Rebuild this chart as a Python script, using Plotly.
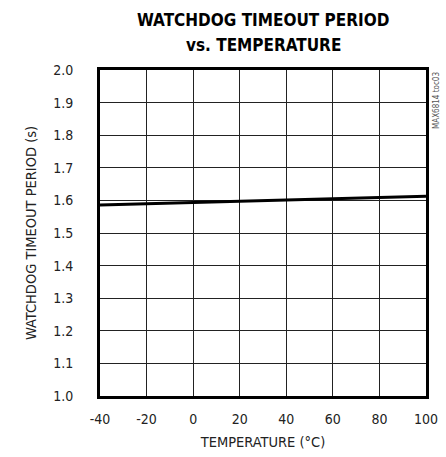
import plotly.graph_objects as go

temperature = [-40, -20, 0, 20, 40, 60, 80, 100]
timeout_s = [1.586, 1.590, 1.594, 1.598, 1.602, 1.605, 1.609, 1.613]

x_ticks = [-40, -20, 0, 20, 40, 60, 80, 100]
y_ticks = [1.0, 1.1, 1.2, 1.3, 1.4, 1.5, 1.6, 1.7, 1.8, 1.9, 2.0]

title_lines = ["WATCHDOG TIMEOUT PERIOD", "vs. TEMPERATURE"]

FONT = "DejaVu Sans Condensed, Liberation Sans Narrow, sans-serif"

fig = go.Figure()
fig.add_trace(go.Scatter(x=temperature, y=timeout_s, mode="lines",
                         line=dict(color="black", width=3), showlegend=False,
                         hoverinfo="skip"))

fig.update_layout(
    width=446, height=457,
    margin=dict(l=100, r=20, t=70, b=61),
    paper_bgcolor="white", plot_bgcolor="white",
    font=dict(family=FONT, size=14, color="#222"),
)
for line, shift in zip(title_lines, [50, 25]):
    fig.add_annotation(text=f"<b>{line}</b>",
                       xref="paper", yref="paper", x=0.5, y=1.0, yshift=shift,
                       xanchor="center", yanchor="middle", showarrow=False,
                       font=dict(family=FONT, size=17, color="black"))
fig.update_xaxes(range=[-40, 100], tickvals=x_ticks, ticktext=[str(v) for v in x_ticks],
                 showgrid=True, gridcolor="#222", gridwidth=1, automargin=False,
                 showline=True, linecolor="black", linewidth=3, mirror=True,
                 ticks="", ticklabelstandoff=8, zeroline=False,
                 title=dict(text="TEMPERATURE (°C)", standoff=12, font=dict(size=14.5)))
fig.update_yaxes(range=[1.0, 2.0], tickvals=y_ticks, ticktext=[f"{v:.1f}" for v in y_ticks],
                 showgrid=True, gridcolor="#222", gridwidth=1, automargin=False,
                 showline=True, linecolor="black", linewidth=3, mirror=True,
                 ticks="", ticklabelstandoff=21, zeroline=False,
                 title=dict(text="WATCHDOG TIMEOUT PERIOD (s)", standoff=14, font=dict(size=14.5)))

fig.add_annotation(text="MAX6814 toc03", xref="paper", yref="paper", x=1.0, y=1.0,
                   xanchor="left", yanchor="top", xshift=4, textangle=-90, showarrow=False,
                   font=dict(family=FONT, size=8, color="#555"))

fig.write_html("out.html", config={"displayModeBar": False},
               post_script="document.body.style.margin='0';")
